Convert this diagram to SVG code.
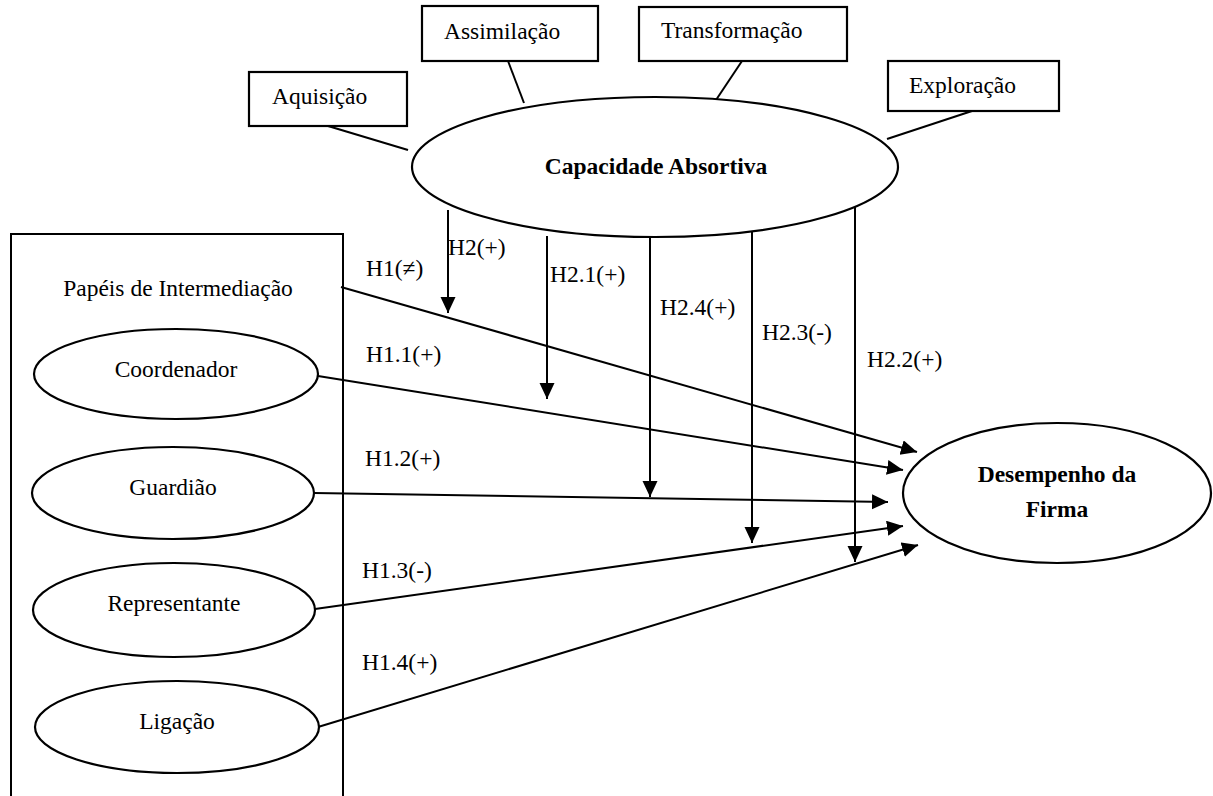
<svg xmlns="http://www.w3.org/2000/svg" width="1213" height="796" viewBox="0 0 1213 796">
<style>
.s{fill:none;stroke:#000;stroke-width:2}
.n{fill:#fff;stroke:#000;stroke-width:2.2}
.t{font-family:"Liberation Serif","Times New Roman",serif;font-size:23.5px;fill:#000}
.b{font-weight:bold;text-anchor:middle}
.c{text-anchor:middle}
</style>
<defs>
<marker id="ah" markerUnits="userSpaceOnUse" markerWidth="17" markerHeight="16" refX="16" refY="7.5" orient="auto">
<path d="M0,0 L16,7.5 L0,15 z" fill="#000"/>
</marker>
</defs>
<rect width="1213" height="796" fill="#fff"/>

<g id="papeis">
<path class="s" d="M11,800 V234 H343 V800"/>
<text class="t" x="178" y="296" text-anchor="middle">Papéis de Intermediação</text>
</g>

<g id="connectors">
<line class="s" x1="328" y1="126" x2="408" y2="150"/>
<line class="s" x1="508" y1="61" x2="524" y2="103"/>
<line class="s" x1="742" y1="61" x2="716" y2="100"/>
<line class="s" x1="972" y1="111" x2="887" y2="139"/>
<line class="s" x1="341" y1="287" x2="917" y2="452" marker-end="url(#ah)"/>
<line class="s" x1="318" y1="376" x2="903" y2="470" marker-end="url(#ah)"/>
<line class="s" x1="314" y1="493" x2="888" y2="502" marker-end="url(#ah)"/>
<line class="s" x1="315" y1="609" x2="903" y2="526" marker-end="url(#ah)"/>
<line class="s" x1="318" y1="727" x2="918" y2="545" marker-end="url(#ah)"/>
<line class="s" x1="448" y1="210" x2="448" y2="313" marker-end="url(#ah)"/>
<line class="s" x1="547" y1="236" x2="547" y2="399" marker-end="url(#ah)"/>
<line class="s" x1="650" y1="237" x2="650" y2="497" marker-end="url(#ah)"/>
<line class="s" x1="752" y1="229" x2="752" y2="543" marker-end="url(#ah)"/>
<line class="s" x1="855" y1="207" x2="855" y2="562" marker-end="url(#ah)"/>
<text class="t" x="366" y="276">H1(≠)</text>
<text class="t" x="448" y="255">H2(+)</text>
<text class="t" x="550" y="282">H2.1(+)</text>
<text class="t" x="660" y="315">H2.4(+)</text>
<text class="t" x="762" y="340">H2.3(-)</text>
<text class="t" x="867" y="367">H2.2(+)</text>
<text class="t" x="366" y="362">H1.1(+)</text>
<text class="t" x="365" y="466">H1.2(+)</text>
<text class="t" x="362" y="578">H1.3(-)</text>
<text class="t" x="362" y="670">H1.4(+)</text>
</g>

<g id="aquisicao">
<rect class="n" x="249" y="72" width="158" height="54"/>
<text class="t" x="272" y="104">Aquisição</text>
</g>
<g id="assimilacao">
<rect class="n" x="422" y="6" width="176" height="55"/>
<text class="t" x="444" y="39">Assimilação</text>
</g>
<g id="transformacao">
<rect class="n" x="639" y="7" width="208" height="54"/>
<text class="t" x="661" y="38">Transformação</text>
</g>
<g id="exploracao">
<rect class="n" x="888" y="61" width="171" height="50"/>
<text class="t" x="909" y="93">Exploração</text>
</g>

<g id="capacidade">
<ellipse class="n" cx="655" cy="167" rx="243" ry="70"/>
<text class="t b" x="656" y="174">Capacidade Absortiva</text>
</g>

<g id="coordenador">
<ellipse class="n" cx="176" cy="374" rx="142" ry="45"/>
<text class="t c" x="176" y="377">Coordenador</text>
</g>
<g id="guardiao">
<ellipse class="n" cx="173" cy="493" rx="141" ry="46"/>
<text class="t c" x="173" y="495">Guardião</text>
</g>
<g id="representante">
<ellipse class="n" cx="174" cy="610" rx="141" ry="47"/>
<text class="t c" x="174" y="611">Representante</text>
</g>
<g id="ligacao">
<ellipse class="n" cx="177" cy="727" rx="142" ry="46"/>
<text class="t c" x="177" y="729">Ligação</text>
</g>

<g id="desempenho">
<ellipse class="n" cx="1057" cy="493" rx="154" ry="70"/>
<text class="t b" x="1057" y="482">Desempenho da</text>
<text class="t b" x="1057" y="517">Firma</text>
</g>
</svg>
